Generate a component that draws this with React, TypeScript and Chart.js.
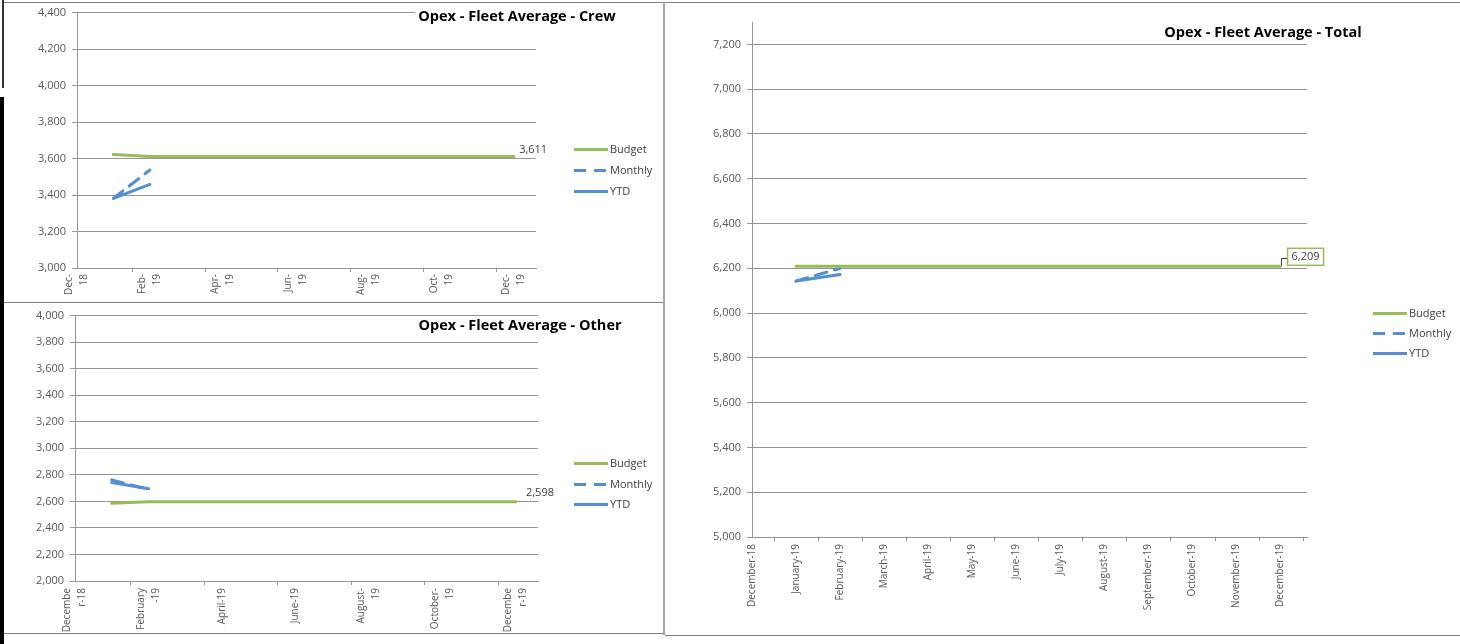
import React, { useEffect, useRef } from 'react';
import { Chart, registerables } from 'chart.js';

Chart.register(...registerables);

// ---------------- data ----------------
// x position of a month: Dec-18 = 0, January-19 = 1 ... December-19 = 12
const months = ['January-19', 'February-19', 'March-19', 'April-19', 'May-19', 'June-19', 'July-19', 'August-19', 'September-19', 'October-19', 'November-19', 'December-19'];
const seriesNames = ['Budget', 'Monthly', 'YTD'];

const crewBudget = [3622, 3611, 3611, 3611, 3611, 3611, 3611, 3611, 3611, 3611, 3611, 3611];
const crewMonthly = [3382, 3537];
const crewYtd = [3382, 3458];

const otherBudget = [2585, 2598, 2598, 2598, 2598, 2598, 2598, 2598, 2598, 2598, 2598, 2598];
const otherMonthly = [2762, 2690];
const otherYtd = [2742, 2695];

const totalBudget = [6209, 6209, 6209, 6209, 6209, 6209, 6209, 6209, 6209, 6209, 6209, 6209];
const totalMonthly = [6143, 6200];
const totalYtd = [6143, 6172];

const crewTickLabels: (string | string[])[] = [['Dec-', '18'], ['Feb-', '19'], ['Apr-', '19'], ['Jun-', '19'], ['Aug-', '19'], ['Oct-', '19'], ['Dec-', '19']];
const otherTickLabels: (string | string[])[] = [['Decembe', 'r-18'], ['February', '-19'], 'April-19', 'June-19', ['August-', '19'], ['October-', '19'], ['Decembe', 'r-19']];
const totalTickLabels: (string | string[])[] = ['December-18', ...months];

// ---------------- style ----------------
const FONT = '"Open Sans", "DejaVu Sans", sans-serif';
const GREEN = '#9BBB59';
const BLUE = '#558ED5';
const GRID = '#969696';
const TEXT = '#595959';
const DASH = [12, 8];

Chart.defaults.font.family = FONT;

type Spec = {
  title: string;
  titleX: number;
  titleY: number;
  budget: number[];
  monthly: number[];
  ytd: number[];
  yMin: number;
  yMax: number;
  yStep: number;
  xMax: number;
  tickLabels: (string | string[])[];
  tickStep: number;
  twoLine: boolean;
  padding: { left: number; right: number; top: number; bottom: number };
  yWidth: number;
  xHeight: number;
  xPad: number;
  legendX: number;
  legendY: number;
  legendGap: number;
  label: { dx: number; dy: number; boxed: boolean };
};

function makeConfig(s: Spec): any {
  const pts = (arr: number[]) => arr.map((v, i) => ({ x: i + 1, y: v }));
  const LH = 15;
  const extras = {
    id: 'excelExtras',
    afterDraw(chart: any) {
      const { ctx, chartArea, scales } = chart;
      const xs = scales.x;
      ctx.save();
      // x-axis tick marks at the start of each labelled period
      ctx.strokeStyle = GRID;
      ctx.lineWidth = 1;
      ctx.setLineDash([]);
      ctx.beginPath();
      for (let v = s.tickStep - 0.5; v <= xs.max; v += s.tickStep) {
        const px = Math.round(xs.getPixelForValue(v)) + 0.5;
        ctx.moveTo(px, chartArea.bottom);
        ctx.lineTo(px, chartArea.bottom + 4);
      }
      ctx.stroke();

      // value label on last budget point
      const meta = chart.getDatasetMeta(0);
      const last = meta.data[meta.data.length - 1];
      const txt = s.budget[s.budget.length - 1].toLocaleString('en-US');
      ctx.font = `11px ${FONT}`;
      ctx.textBaseline = 'middle';
      ctx.textAlign = 'left';
      if (s.label.boxed) {
        const w = ctx.measureText(txt).width;
        const bx = last.x + s.label.dx;
        const by = last.y + s.label.dy;
        const bw = w + 8;
        const bh = 17;
        ctx.strokeStyle = '#404040';
        ctx.lineWidth = 1;
        ctx.beginPath();
        ctx.moveTo(Math.round(last.x) + 0.5, last.y - 1);
        ctx.lineTo(Math.round(last.x) + 0.5, Math.round(by + bh / 2) + 1.5);
        ctx.lineTo(bx, Math.round(by + bh / 2) + 1.5);
        ctx.stroke();
        ctx.fillStyle = '#fff';
        ctx.fillRect(bx, by, bw, bh);
        ctx.strokeStyle = GREEN;
        ctx.lineWidth = 1.5;
        ctx.strokeRect(bx, by, bw, bh);
        ctx.fillStyle = '#404040';
        ctx.fillText(txt, bx + 4, by + bh / 2);
      } else {
        ctx.fillStyle = '#404040';
        ctx.fillText(txt, last.x + s.label.dx, last.y + s.label.dy);
      }

      // legend
      chart.data.datasets.forEach((ds: any, i: number) => {
        const y = Math.round(s.legendY + i * s.legendGap) + 0.5;
        ctx.strokeStyle = ds.borderColor;
        ctx.lineWidth = 3;
        ctx.setLineDash(ds.borderDash || []);
        ctx.beginPath();
        ctx.moveTo(s.legendX, y);
        ctx.lineTo(s.legendX + 34, y);
        ctx.stroke();
        ctx.setLineDash([]);
        ctx.fillStyle = '#404040';
        ctx.font = `11px ${FONT}`;
        ctx.textAlign = 'left';
        ctx.textBaseline = 'middle';
        ctx.fillText(ds.label, s.legendX + 36, y);
      });

      // title
      ctx.font = `bold 14.5px ${FONT}`;
      const tw = ctx.measureText(s.title).width;
      ctx.fillStyle = '#fff';
      ctx.fillRect(s.titleX - tw / 2 - 3, s.titleY - 8, tw + 6, 16);
      ctx.fillStyle = '#000';
      ctx.textAlign = 'center';
      ctx.textBaseline = 'middle';
      ctx.fillText(s.title, s.titleX, s.titleY);
      ctx.restore();
    },
  };

  return {
    type: 'line',
    data: {
      datasets: [
        { label: seriesNames[0], data: pts(s.budget), borderColor: GREEN, borderWidth: 3 },
        { label: seriesNames[1], data: pts(s.monthly), borderColor: BLUE, borderWidth: 3, borderDash: DASH },
        { label: seriesNames[2], data: pts(s.ytd), borderColor: BLUE, borderWidth: 3 },
      ],
    },
    options: {
      responsive: false,
      animation: false,
      devicePixelRatio: 1,
      events: [],
      layout: { padding: s.padding },
      elements: { point: { radius: 0 }, line: { tension: 0, fill: false, borderCapStyle: 'round' } },
      plugins: { legend: { display: false }, title: { display: false }, tooltip: { enabled: false } },
      scales: {
        x: {
          type: 'linear',
          min: 0,
          max: s.xMax,
          bounds: 'data',
          afterBuildTicks: (sc: any) => {
            sc.ticks = s.tickLabels.map((_, k) => ({ value: k * s.tickStep }));
          },
          afterFit: (sc: any) => {
            sc.height = s.xHeight;
          },
          grid: { display: false, drawTicks: false },
          border: { display: true, color: GRID, width: 1 },
          ticks: {
            autoSkip: false,
            minRotation: 90,
            maxRotation: 90,
            padding: s.xPad,
            color: TEXT,
            labelOffset: s.twoLine ? -LH / 2 : 0,
            font: (ctx: any) => {
              const l = s.tickLabels[ctx.index];
              const single = !Array.isArray(l);
              return { family: FONT, size: 10, lineHeight: s.twoLine && single ? `${LH / 2}px` : `${LH}px` };
            },
            callback: (_v: any, i: number) => {
              const l = s.tickLabels[i];
              if (Array.isArray(l)) return l;
              return s.twoLine ? ['', l] : l;
            },
          },
        },
        y: {
          min: s.yMin,
          max: s.yMax,
          afterBuildTicks: (sc: any) => {
            const t: any[] = [];
            for (let v = s.yMin; v <= s.yMax + 1e-9; v += s.yStep) t.push({ value: v });
            sc.ticks = t;
          },
          afterFit: (sc: any) => {
            sc.width = s.yWidth;
          },
          grid: { color: GRID, lineWidth: 1, tickLength: 5, drawTicks: true },
          border: { display: true, color: GRID, width: 1 },
          ticks: {
            color: TEXT,
            padding: 6,
            font: { family: FONT, size: 11 },
            callback: (v: any) => Number(v).toLocaleString('en-US'),
          },
        },
      },
    },
    plugins: [extras],
  };
}

const crewSpec: Spec = {
  title: 'Opex - Fleet Average - Crew',
  titleX: 517,
  titleY: 17,
  budget: crewBudget,
  monthly: crewMonthly,
  ytd: crewYtd,
  yMin: 3000,
  yMax: 4400,
  yStep: 200,
  xMax: 12.6,
  tickLabels: crewTickLabels,
  tickStep: 2,
  twoLine: true,
  padding: { left: 17, right: 128, top: 10, bottom: 0 },
  yWidth: 60,
  xHeight: 35,
  xPad: 6,
  legendX: 574,
  legendY: 149,
  legendGap: 21,
  label: { dx: 5, dy: -7, boxed: false },
};

const otherSpec: Spec = {
  title: 'Opex - Fleet Average - Other',
  titleX: 520,
  titleY: 23,
  budget: otherBudget,
  monthly: otherMonthly,
  ytd: otherYtd,
  yMin: 2000,
  yMax: 4000,
  yStep: 200,
  xMax: 12.6,
  tickLabels: otherTickLabels,
  tickStep: 2,
  twoLine: true,
  padding: { left: 15, right: 126, top: 10, bottom: 0 },
  yWidth: 60,
  xHeight: 53,
  xPad: 7,
  legendX: 574,
  legendY: 160,
  legendGap: 20.5,
  label: { dx: 10, dy: -9, boxed: false },
};

const totalSpec: Spec = {
  title: 'Opex - Fleet Average - Total',
  titleX: 599,
  titleY: 33,
  budget: totalBudget,
  monthly: totalMonthly,
  ytd: totalYtd,
  yMin: 5000,
  yMax: 7300,
  yStep: 200,
  xMax: 12.6,
  tickLabels: totalTickLabels,
  tickStep: 1,
  twoLine: false,
  padding: { left: 28, right: 153, top: 22, bottom: 0 },
  yWidth: 60,
  xHeight: 98,
  xPad: 7,
  legendX: 709,
  legendY: 313,
  legendGap: 20,
  label: { dx: 7, dy: -18, boxed: true },
};

const line = (l: number, t: number, w: number, h: number, c: string) => (
  <div style={{ position: 'absolute', left: l, top: t, width: w, height: h, background: c, pointerEvents: 'none' }} />
);

export default function App() {
  const crewRef = useRef<HTMLCanvasElement>(null);
  const otherRef = useRef<HTMLCanvasElement>(null);
  const totalRef = useRef<HTMLCanvasElement>(null);

  useEffect(() => {
    const charts = [
      new Chart(crewRef.current as HTMLCanvasElement, makeConfig(crewSpec)),
      new Chart(otherRef.current as HTMLCanvasElement, makeConfig(otherSpec)),
      new Chart(totalRef.current as HTMLCanvasElement, makeConfig(totalSpec)),
    ];
    let alive = true;
    if ((document as any).fonts) {
      Promise.all([
        (document as any).fonts.load(`11px ${FONT}`),
        (document as any).fonts.load(`bold 14px ${FONT}`),
      ]).then(() => {
        if (alive) charts.forEach((c) => c.update());
      }).catch(() => {});
    }
    return () => {
      alive = false;
      charts.forEach((c) => c.destroy());
    };
  }, []);

  return (
    <div style={{ position: 'absolute', left: 0, top: 0, width: 1460, height: 644, background: '#fff', overflow: 'hidden' }}>
      <canvas ref={crewRef} width={664} height={303} style={{ position: 'absolute', left: 0, top: 0 }} />
      <canvas ref={otherRef} width={664} height={331} style={{ position: 'absolute', left: 0, top: 303 }} />
      <canvas ref={totalRef} width={796} height={635} style={{ position: 'absolute', left: 664, top: 0 }} />
      {line(2, 0, 2, 88, '#333')}
      {line(0, 97, 4, 547, '#000')}
      {line(4, 2, 1456, 1, '#808080')}
      {line(663, 2, 2, 633, '#A6A6A6')}
      {line(4, 302, 659, 1, '#808080')}
      {line(4, 633, 659, 1, '#808080')}
      {line(665, 635, 795, 1, '#808080')}
    </div>
  );
}
